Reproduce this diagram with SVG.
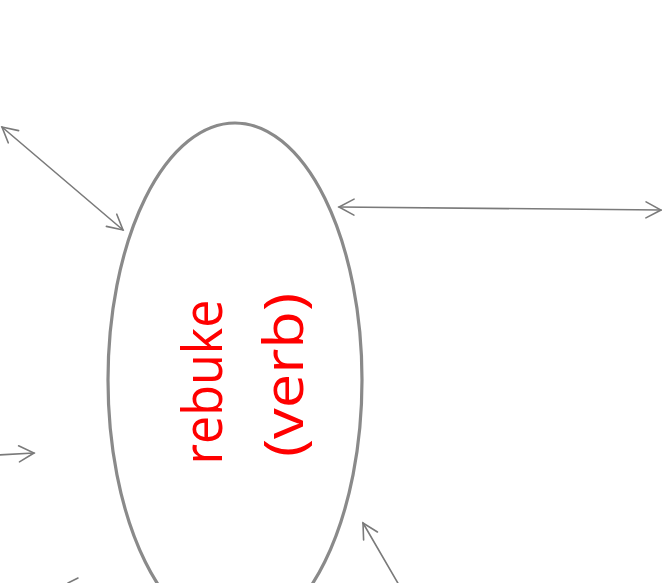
<svg xmlns="http://www.w3.org/2000/svg" width="662" height="583" viewBox="0 0 662 583">
<style>
.conn{fill:none;stroke:#7a7a7a;stroke-width:1.6;stroke-linecap:round}
.node{fill:none;stroke:#8a8a8a;stroke-width:3.2}
.lbl{font-family:"Open Sans","Noto Sans",sans-serif;font-size:54px;fill:#ff0000}
</style>
<defs>
<marker id="ah" viewBox="0 0 20 20" refX="18" refY="10" markerWidth="20" markerHeight="20" markerUnits="userSpaceOnUse" orient="auto-start-reverse">
<path d="M3,2 L18,10 L3,18" fill="none" stroke="#7a7a7a" stroke-width="1.6" stroke-linecap="round"/>
</marker>
</defs>
<rect width="662" height="583" fill="#ffffff"/>
<g id="connectors">
<line class="conn" x1="2" y1="127" x2="123" y2="230" marker-start="url(#ah)" marker-end="url(#ah)"/>
<line class="conn" x1="339" y1="207" x2="661" y2="210" marker-start="url(#ah)" marker-end="url(#ah)"/>
<line class="conn" x1="-2" y1="455" x2="34" y2="453" marker-end="url(#ah)"/>
<line class="conn" x1="399" y1="585" x2="363" y2="523" marker-end="url(#ah)"/>
<line class="conn" x1="68" y1="583" x2="78" y2="578"/>
</g>
<g id="rebuke">
<ellipse class="node" cx="235" cy="380" rx="127" ry="257"/>
<text class="lbl" transform="translate(222,382) rotate(-90)" text-anchor="middle" textLength="165" lengthAdjust="spacingAndGlyphs">rebuke</text>
<text class="lbl" transform="translate(303,375) rotate(-90)" text-anchor="middle" textLength="164" lengthAdjust="spacingAndGlyphs">(verb)</text>
</g>
</svg>
